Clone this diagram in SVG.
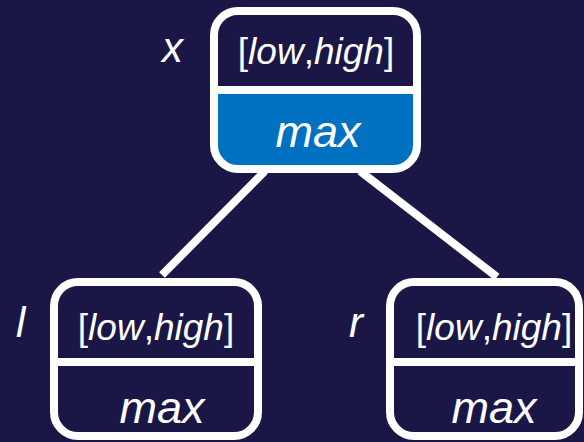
<svg xmlns="http://www.w3.org/2000/svg" width="584" height="442" viewBox="0 0 584 442">
<style>
.bg{fill:#1a1747}
.box{fill:none;stroke:#ffffff;stroke-width:8}
.div{stroke:#ffffff;stroke-width:8}
.edge{stroke:#ffffff;stroke-width:8;stroke-linecap:butt}
.t{font-family:"Liberation Sans",Arial,sans-serif;fill:#ffffff}
.iv{font-size:37px}
.mx{font-size:45px;font-style:italic}
.lb{font-size:42px;font-style:italic}
.i{font-style:italic}
</style>
<defs>
<clipPath id="cx"><rect x="214" y="11" width="203" height="158" rx="24"/></clipPath>
</defs>
<rect class="bg" x="0" y="0" width="584" height="442"/>
<g id="connectors">
<line class="edge" x1="265" y1="171" x2="162" y2="275"/>
<line class="edge" x1="360" y1="171" x2="497" y2="277"/>
</g>
<g id="node-x">
<rect x="214" y="11" width="203" height="158" rx="24" fill="#1a1747"/>
<rect x="214" y="90" width="203" height="80" fill="#0070c0" clip-path="url(#cx)"/>
<rect class="box" x="214" y="11" width="203" height="158" rx="24"/>
<line class="div" x1="214" y1="90" x2="417" y2="90"/>
<text class="t iv" x="316" y="64" text-anchor="middle">[<tspan class="i">low</tspan>,<tspan class="i">high</tspan>]</text>
<text class="t mx" x="318" y="147" text-anchor="middle">max</text>
<text class="t lb" x="162" y="62">x</text>
</g>
<g id="node-l">
<rect class="box" x="54" y="282" width="204" height="154" rx="24"/>
<line class="div" x1="54" y1="362" x2="258" y2="362"/>
<text class="t iv" x="156" y="340" text-anchor="middle">[<tspan class="i">low</tspan>,<tspan class="i">high</tspan>]</text>
<text class="t mx" x="162" y="423" text-anchor="middle">max</text>
<text class="t lb" x="16" y="337">l</text>
</g>
<g id="node-r">
<rect class="box" x="390" y="282" width="189" height="154" rx="24"/>
<line class="div" x1="390" y1="362" x2="579" y2="362"/>
<text class="t iv" x="494" y="340" text-anchor="middle">[<tspan class="i">low</tspan>,<tspan class="i">high</tspan>]</text>
<text class="t mx" x="494" y="423" text-anchor="middle">max</text>
<text class="t lb" x="349" y="337">r</text>
</g>
</svg>
